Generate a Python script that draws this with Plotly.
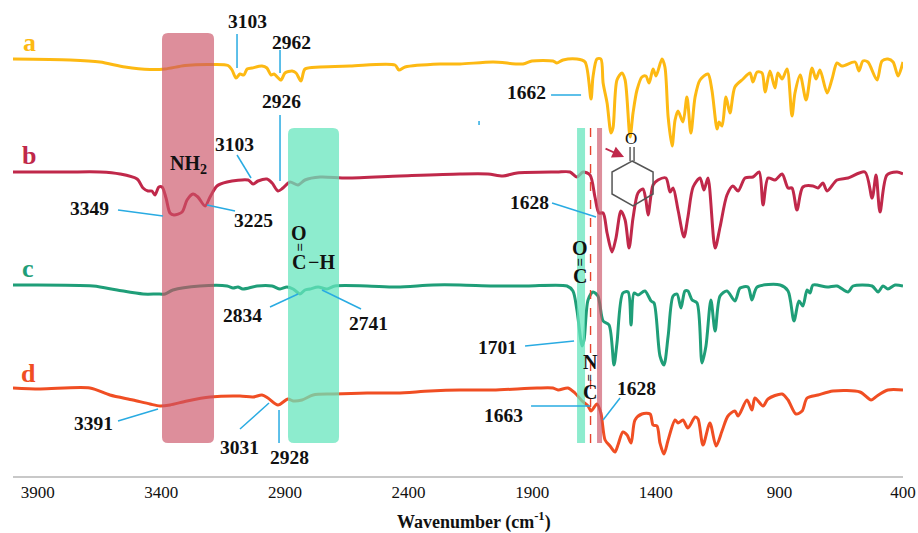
import plotly.graph_objects as go

# wavenumber (cm-1) and stacked transmittance (arbitrary offset units)
wn_a = [4000,3769,3648,3547,3446,3385,3304,3191,3130,3114,3098,3082,3066,3053,3033,2993,2973,2956,2944,2916,2900,2871,2855,2835,2819,2758,2637,2455,2439,2414,2273,2192,2058,1937,1901,1816,1800,1775,1719,1686,1662,1654,1638,1622,1613,1597,1581,1573,1557,1537,1524,1504,1492,1476,1456,1440,1427,1411,1399,1375,1363,1350,1334,1322,1310,1290,1274,1258,1241,1221,1189,1173,1152,1144,1132,1116,1100,1080,1047,1019,1007,990,970,958,938,918,906,889,869,849,837,816,792,768,752,736,707,687,667,647,594,578,562,542,505,485,461,440,420,400]
t_a = [417,416,414,409,406.5,407,410.5,411.5,410.5,406,398,402,401,407,408,410,408,401,402,396,403,405,403,395,407,409,410,411,406,409,412,412,414,412,415,415,413,416,417,414,377,399,417,417,393,373,343,348,396,403,396,339,363,386,399,400,393,407,400,417,409,359,330,356,365,354,379,343,379,396,402,386,347,354,350,379,363,389,397,403,394,404,403,384,405,388,403,397,407,360,383,401,376,408,397,406,383,397,413,410,414,405,415,414,396,415,417,414,400,414]

wn_b = [4000,3782,3648,3567,3498,3474,3454,3438,3426,3410,3397,3381,3365,3349,3316,3296,3272,3252,3223,3203,3175,3134,3049,3029,3009,2973,2952,2928,2908,2880,2847,2819,2758,2649,2435,2192,2079,2018,1961,1800,1747,1719,1694,1666,1646,1630,1613,1597,1577,1561,1541,1524,1508,1492,1472,1452,1440,1431,1411,1391,1359,1342,1330,1310,1286,1270,1249,1221,1205,1189,1160,1140,1112,1088,1067,1039,1007,982,966,946,918,889,865,849,829,805,764,744,724,707,667,622,554,525,509,493,465,424,400]
t_b = [304,304,304,302,297,288,285,285,281,289,289,278,263,261,264,276,282,279,270,279,290,294,296,292,295,297,293,285,288,294,291,296,299,298,300,302,302,300,303,304,304,299,304,301,279,263,263,243,224,238,265,256,228,258,283,287,276,261,291,296,298,284,288,266,239,259,289,298,286,298,228,249,281,290,285,298,299,304,271,298,296,302,288,288,266,289,290,288,293,285,296,298,304,278,301,264,301,304,302]

wn_c = [4000,3676,3579,3474,3418,3385,3353,3244,3134,3110,3090,3070,3013,2952,2920,2892,2867,2839,2819,2799,2766,2730,2698,2568,2447,2301,2192,2058,1921,1759,1735,1719,1698,1690,1674,1654,1634,1613,1589,1569,1557,1533,1512,1500,1488,1472,1444,1419,1407,1383,1367,1350,1330,1314,1298,1282,1270,1253,1233,1213,1197,1177,1160,1140,1112,1080,1059,1027,1011,990,897,865,841,821,805,788,776,764,707,667,622,602,525,501,481,461,432,400]
t_c = [191,190,186,182,182,182,186,190,190,188,189,187,190,190,187,189,187,182,186,187,189,187,190,190,189,191,191,190,190,190,185,166,130,136,176,184,180,155,151,111,133,183,184,151,183,181,185,175,173,120,111,140,180,182,168,185,185,176,173,113,130,176,145,180,185,175,188,189,176,189,191,185,155,175,170,186,183,191,189,190,184,190,190,184,190,187,191,190]

wn_d = [4000,3891,3689,3608,3515,3446,3405,3365,3296,3203,3082,3029,2993,2969,2928,2888,2867,2831,2786,2706,2568,2447,2313,2192,2058,1880,1816,1795,1755,1727,1698,1674,1662,1638,1622,1605,1585,1565,1553,1533,1516,1500,1484,1456,1423,1411,1395,1383,1367,1350,1322,1310,1290,1270,1241,1229,1209,1181,1156,1132,1108,1080,1067,1031,1011,999,966,946,889,865,833,808,788,744,683,574,529,505,461,400]
t_d = [88,87,88,81,76,72,70,71,75,79,80,79,81,78,71,77,75,76,81,82,83,83,85,86,86,88,88,86,88,83,75,70,65,72,63,36,30,24,31,44,41,33,56,62,62,51,50,33,22,36,56,53,56,48,59,57,31,53,30,45,60,65,60,76,66,78,70,77,82,76,62,65,78,81,85,84,76,80,86,86]

series_names = ["a", "b", "c", "d"]
series_colors = ["#fdb913", "#c0284a", "#1f9e78", "#f04e23"]
tick_vals = [3900, 3400, 2900, 2400, 1900, 1400, 900, 400]
peak_labels = [("3103",247,21),("2962",291,42),("2926",281,101),("3103",234,144),("3349",89,208),
               ("3225",253,220),("2834",242,315),("2741",368,323),("3391",93,423),("3031",239,447),
               ("2928",289,457),("1662",526,92),("1628",529,202),("1701",497,347),("1663",503,415),
               ("1628",636,388)]
leaders = [(237,34,237,68),(280,50,280,73),(280,115,280,181),(237,155,251,178),(118,210,163,216),
           (207,205,235,211),(270,307,298,294),(322,290,361,309),(118,421,158,409),(240,429,269,403),
           (279,410,279,443),(551,95,581,95),(552,203,596,217),(525,346,574,341),(531,406,590,406),
           (620,398,603,420),(479,121,479,125)]

FONT = "Liberation Serif"
X = lambda px: 4000 - (px - 13) / 0.2472
Y = lambda py: 476 - py

fig = go.Figure()
for xs, ys, name, col in zip([wn_a, wn_b, wn_c, wn_d], [t_a, t_b, t_c, t_d], series_names, series_colors):
    fig.add_trace(go.Scatter(x=xs, y=ys, mode="lines", name=name, showlegend=False, hoverinfo="skip",
                             line=dict(color=col, width=3, shape="spline", smoothing=0.8)))

def rounded(x0, x1, y0, y1, r):
    a, b, c, d = X(x0), X(x1), Y(y0), Y(y1)
    rx, ry = r / 0.2472, r
    return (f"M{a-rx},{c} L{b+rx},{c} Q{b},{c} {b},{c-ry} L{b},{d+ry} Q{b},{d} {b+rx},{d} "
            f"L{a-rx},{d} Q{a},{d} {a},{d+ry} L{a},{c-ry} Q{a},{c} {a-rx},{c} Z")

shapes = []
PINK, GREEN = "rgba(203,81,101,0.65)", "rgba(103,229,190,0.75)"
shapes.append(dict(type="path", path=rounded(162, 214, 33, 443, 6), fillcolor=PINK, line_width=0, layer="above"))
shapes.append(dict(type="path", path=rounded(288, 339, 128, 443, 6), fillcolor=GREEN, line_width=0, layer="above"))
shapes.append(dict(type="rect", x0=X(577), x1=X(585), y0=Y(128), y1=Y(443), fillcolor=GREEN, line_width=0, layer="above"))
shapes.append(dict(type="rect", x0=X(597), x1=X(602), y0=Y(128), y1=Y(443), fillcolor=PINK, line_width=0, layer="above"))
shapes.append(dict(type="line", x0=X(590.5), x1=X(590.5), y0=Y(128), y1=Y(443), layer="above",
                   line=dict(color="#e8432e", width=1.4, dash="dash")))
for x0, y0, x1, y1 in leaders:
    shapes.append(dict(type="line", x0=X(x0), x1=X(x1), y0=Y(y0), y1=Y(y1), layer="above",
                       line=dict(color="#29abe2", width=1.5)))
# cyclohexanone sketch
hexa = [(632,161),(653,172),(653,194),(633,206),(612,194),(612,172)]
hex_path = "M" + " L".join(f"{X(a)},{Y(b)}" for a, b in hexa) + " Z"
shapes.append(dict(type="path", path=hex_path, line=dict(color="#555555", width=1.5), layer="above"))
for xb in (630, 634):
    shapes.append(dict(type="line", x0=X(xb), x1=X(xb), y0=Y(147), y1=Y(161), layer="above",
                       line=dict(color="#444444", width=1.3)))

ann = []
def text(t, px, py, size=19.5, color="#111111", bold=True, angle=0):
    ann.append(dict(x=X(px), y=Y(py), text=f"<b>{t}</b>" if bold else t, showarrow=False, textangle=angle,
                    xanchor="center", yanchor="middle", font=dict(family=FONT, size=size, color=color)))
for t, px, py in peak_labels:
    text(t, px, py)
for n, c, px, py in zip(series_names, series_colors, [29, 29, 28, 28], [42, 155, 268, 373]):
    text(n, px, py, size=26, color=c)
text("NH<sub>2</sub>", 188, 164, size=20)
text("O", 299, 233, size=20); text("=", 300, 247, size=15, angle=90); text("C", 299, 262, size=20); text("−H", 321, 262, size=20)
text("O", 580, 248, size=20); text("=", 580, 262, size=15, angle=90); text("C", 580, 276, size=20)
text("N", 590, 362, size=20); text("=", 590, 377, size=13, angle=90); text("C", 590, 392, size=20)
text("O", 631, 138, size=17, bold=False)
ann.append(dict(x=X(624), y=Y(157), ax=X(604), ay=Y(148), axref="x", ayref="y", text="", showarrow=True,
                arrowhead=2, arrowsize=1.3, arrowwidth=1.8, arrowcolor="#c0284a"))
ann.append(dict(x=X(474), y=-45/476, xref="x", yref="paper", text="<b>Wavenumber (cm<sup>-1</sup>)</b>", showarrow=False,
                xanchor="center", yanchor="middle", font=dict(family=FONT, size=18, color="#111111")))

fig.update_layout(
    width=918, height=533, margin=dict(l=13, r=15, t=0, b=57, autoexpand=False),
    paper_bgcolor="white", plot_bgcolor="white", showlegend=False,
    shapes=shapes, annotations=ann,
    xaxis=dict(range=[4000, 400], tickvals=tick_vals, ticktext=[str(v) for v in tick_vals], ticks="",
               showgrid=False, zeroline=False, showline=True, linecolor="#c8c8c8", linewidth=1.5,
               tickfont=dict(family=FONT, size=17, color="#111111"), tickprefix="<b>", ticksuffix="</b>"),
    yaxis=dict(range=[0, 476], visible=False),
)
fig.write_html("out.html", config=dict(displayModeBar=False),
               post_script="document.body.style.margin='0';document.documentElement.style.overflow='hidden';")
